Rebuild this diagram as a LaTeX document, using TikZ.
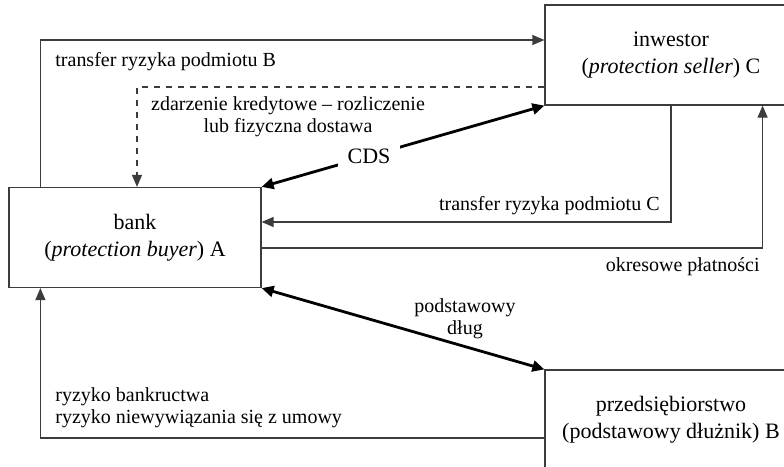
\documentclass[tikz,border=0pt]{standalone}
\usepackage{fontspec}
\setmainfont{Liberation Serif}
\usepackage{xcolor}
\usepackage{tikz}
\usetikzlibrary{arrows.meta}

\definecolor{linegray}{HTML}{3C3C3C}

\tikzset{
  party/.style={draw=linegray, line width=0.6pt, minimum width=126pt, minimum height=50pt,
    align=center, font=\fontsize{11}{13.5}\selectfont},
  link/.style={draw=linegray, line width=0.6pt, -{Triangle[length=6pt,width=5pt]}},
  deal/.style={draw=black, line width=1.4pt, {Triangle[length=6pt,width=5.5pt]}-{Triangle[length=6pt,width=5.5pt]}},
  lbl/.style={inner sep=0pt, font=\fontsize{10}{11}\selectfont}
}

\begin{document}
\begin{tikzpicture}[x=0.5pt, y=-0.5pt]
  \useasboundingbox (0,0) rectangle (784,467);
  \clip (0,0) rectangle (784,467);

  % uczestnicy
  \node[party] (bank) at (135,237.5) {bank\\(\textit{protection buyer}) A};
  \node[party] (inw) at (671,55) {inwestor\\(\textit{protection seller}) C};
  \node[party] (firm) at (671,420) {przedsiębiorstwo\\(podstawowy dłużnik) B};

  % przepływy
  \draw[link] ([xshift=16pt]bank.north west) |- ([yshift=7.5pt]inw.west);
  \draw[link, dashed] ([yshift=-16pt]inw.west) -| ([xshift=1pt]bank.north);
  \draw[deal] (bank.north east) -- node[pos=.38, fill=white, inner sep=5pt, font=\fontsize{11}{13}\selectfont] (cds) {CDS} (inw.south west);
  \draw[link] (inw.south) |- ([yshift=7.75pt]bank.east);
  \draw[link] ([yshift=-5.25pt]bank.east) -| ([xshift=-17.5pt]inw.south east);
  \draw[deal] (bank.south east) -- (firm.north west);
  \draw[link] ([yshift=-9pt]firm.west) -| ([xshift=16pt]bank.south west);

  % opisy
  \node[lbl, anchor=west] (tB) at (55,62) {transfer ryzyka podmiotu B};
  \node[lbl, align=center] (zk) at (288,117) {zdarzenie kredytowe -- rozliczenie\\lub fizyczna dostawa};
  \node[lbl, anchor=east] (tC) at (660,206) {transfer ryzyka podmiotu C};
  \node[lbl, anchor=east] (op) at (760,267) {okresowe płatności};
  \node[lbl, align=center] (pd) at (465,319) {podstawowy\\dług};
  \node[lbl, align=left, anchor=west] (rb) at (55,408) {ryzyko bankructwa\\ryzyko niewywiązania się z umowy};
\end{tikzpicture}
\end{document}
